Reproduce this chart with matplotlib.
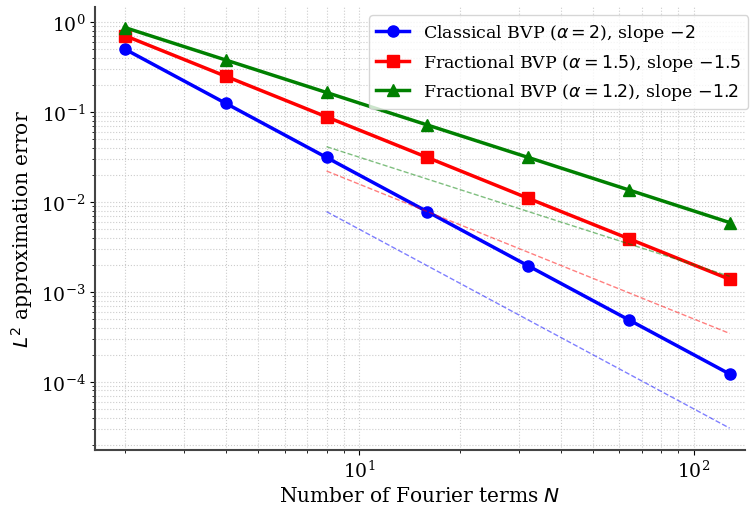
import matplotlib
matplotlib.use('Agg')

import matplotlib.pyplot as plt

n_terms = [2, 4, 8, 16, 32, 64, 128]
err_classical = [0.5, 0.125, 0.03125, 0.0078, 0.00195, 0.000488, 0.000122]
err_frac15 = [0.707, 0.25, 0.0884, 0.03125, 0.011, 0.0039, 0.00138]
err_frac12 = [0.87, 0.379, 0.165, 0.0718, 0.0313, 0.0136, 0.0059]

ref_n = [8, 128]
ref_classical = [0.0078, 3.05e-5]
ref_frac15 = [0.0221, 0.000345]
ref_frac12 = [0.0412, 0.00149]

labels = [r'Classical BVP ($\alpha=2$), slope $-2$',
          r'Fractional BVP ($\alpha=1.5$), slope $-1.5$',
          r'Fractional BVP ($\alpha=1.2$), slope $-1.2$']

plt.rcParams['font.family'] = 'serif'
plt.rcParams['font.serif'] = ['DejaVu Serif']


def run():
    fig = plt.figure(figsize=(7.5, 5.06), dpi=100)
    ax = fig.add_axes([0.127, 0.109, 0.866, 0.875])

    ax.loglog(n_terms, err_classical, 'o-', color='blue', lw=2.5, ms=8, label=labels[0])
    ax.loglog(n_terms, err_frac15, 's-', color='red', lw=2.5, ms=8, label=labels[1])
    ax.loglog(n_terms, err_frac12, '^-', color='green', lw=2.5, ms=8, label=labels[2])

    # reference slopes
    ax.loglog(ref_n, ref_classical, '--', color='blue', lw=1, alpha=0.5)
    ax.loglog(ref_n, ref_frac15, '--', color='red', lw=1, alpha=0.5)
    ax.loglog(ref_n, ref_frac12, '--', color='green', lw=1, alpha=0.5)

    ax.set_xlim(1.63, 142)
    ax.set_ylim(1.75e-5, 1.47)

    ax.grid(True, which='both', ls=':', color='#cccccc', lw=0.8)
    ax.spines['top'].set_visible(False)
    ax.spines['right'].set_visible(False)
    for s in ['left', 'bottom']:
        ax.spines[s].set_color('#444444')
        ax.spines[s].set_linewidth(1.5)
    ax.tick_params(labelsize=13.5)

    ax.set_xlabel(r'Number of Fourier terms $N$', fontsize=14.5)
    ax.set_ylabel(r'$L^2$ approximation error', fontsize=14.5)
    ax.legend(loc='upper right', bbox_to_anchor=(1.005, 0.982), borderaxespad=0,
              fontsize=12.5, handlelength=1.9)
    return fig


def main():
    fig = run()
    fig.savefig('out.png', dpi=100)


if __name__ == '__main__':
    main()
